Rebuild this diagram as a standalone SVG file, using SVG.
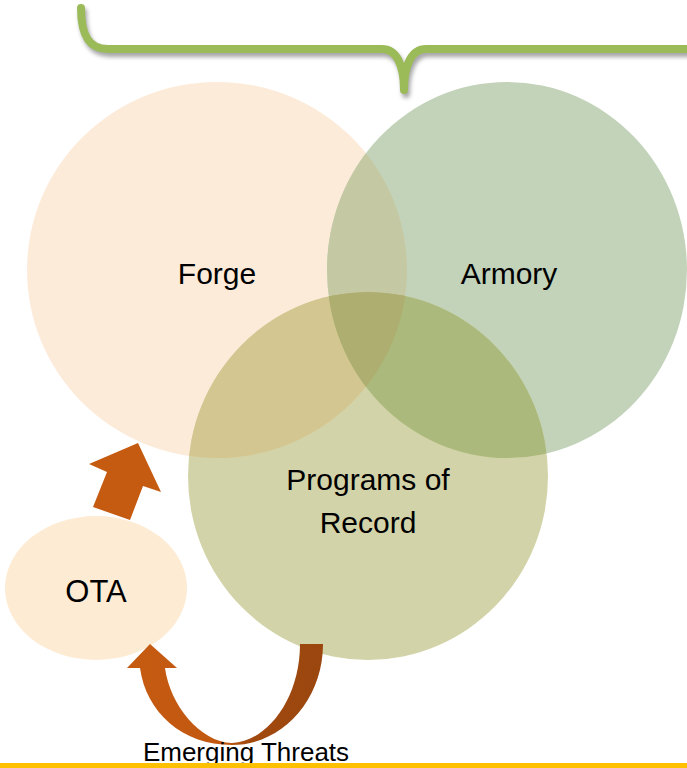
<svg xmlns="http://www.w3.org/2000/svg" width="687" height="768" viewBox="0 0 687 768">
<style>
.lbl{font-family:"Liberation Sans",Arial,sans-serif;font-size:30px;fill:#000;text-anchor:middle}
.arrow{fill:#C55A11}
</style>
<defs>
<clipPath id="cF"><ellipse cx="217" cy="270" rx="190" ry="188"/></clipPath>
<clipPath id="cA"><ellipse cx="507" cy="270" rx="180" ry="188"/></clipPath>
<clipPath id="cP"><ellipse cx="368" cy="476" rx="180" ry="184"/></clipPath>
<filter id="sh" x="-5%" y="-20%" width="110%" height="160%"><feGaussianBlur stdDeviation="2"/></filter>
<linearGradient id="ug" x1="140" y1="0" x2="323" y2="0" gradientUnits="userSpaceOnUse">
<stop offset="0" stop-color="#C55A11"/><stop offset="0.45" stop-color="#C25911"/><stop offset="0.6" stop-color="#A14A0F"/><stop offset="1" stop-color="#9A460E"/>
</linearGradient>
</defs>
<rect width="687" height="768" fill="#fff"/>
<g id="bracket">
<path d="M81,8 C81,34 88,49 108,49 L382,49 C396,49 404,64 404,90 C404,64 412,49 426,49 L692,49" fill="none" stroke="#000" stroke-opacity="0.35" stroke-width="8" stroke-linecap="round" stroke-linejoin="round" transform="translate(2,4)" filter="url(#sh)"/>
<path d="M81,8 C81,34 88,49 108,49 L382,49 C396,49 404,64 404,90 C404,64 412,49 426,49 L692,49" fill="none" stroke="#9BBB59" stroke-width="8" stroke-linecap="round" stroke-linejoin="round"/>
</g>
<g id="forge"><ellipse cx="217" cy="270" rx="190" ry="188" fill="#FDEBDA"/></g>
<g id="armory"><ellipse cx="507" cy="270" rx="180" ry="188" fill="#C3D3BA"/></g>
<g id="programs"><ellipse cx="368" cy="476" rx="180" ry="184" fill="#D3D3A9"/></g>
<g id="overlaps">
<ellipse cx="217" cy="270" rx="190" ry="188" fill="#C5C9A3" clip-path="url(#cA)"/>
<ellipse cx="217" cy="270" rx="190" ry="188" fill="#D4C690" clip-path="url(#cP)"/>
<ellipse cx="507" cy="270" rx="180" ry="188" fill="#ABBA7C" clip-path="url(#cP)"/>
<g clip-path="url(#cP)"><ellipse cx="217" cy="270" rx="190" ry="188" fill="#ADAE6F" clip-path="url(#cA)"/></g>
</g>
<g id="labels">
<text class="lbl" x="217" y="284">Forge</text>
<text class="lbl" x="509" y="284">Armory</text>
<text class="lbl" x="368" y="490">Programs of</text>
<text class="lbl" x="368" y="533">Record</text>
</g>
<g id="ota">
<ellipse cx="96" cy="588" rx="91" ry="72" fill="#FEEBD3"/>
<text class="lbl" x="96" y="602" style="font-size:31px">OTA</text>
</g>
<g id="connectors">
<polygon class="arrow" points="93,507 107,472 89,464 138,443 161,492 143,486 130,520"/>
<path d="M323,644 C323,700 282,745 232,745 C182,745 146,712 140,668 L127,668 L150,644 L177,668 L165,668 C170,705 200,742 232,743 C266,742 300,700 300,644 Z" fill="url(#ug)"/>
</g>
<text class="lbl" x="246" y="761" style="font-size:26px">Emerging Threats</text>
<rect x="0" y="763" width="687" height="5" fill="#FFC000"/>
</svg>
